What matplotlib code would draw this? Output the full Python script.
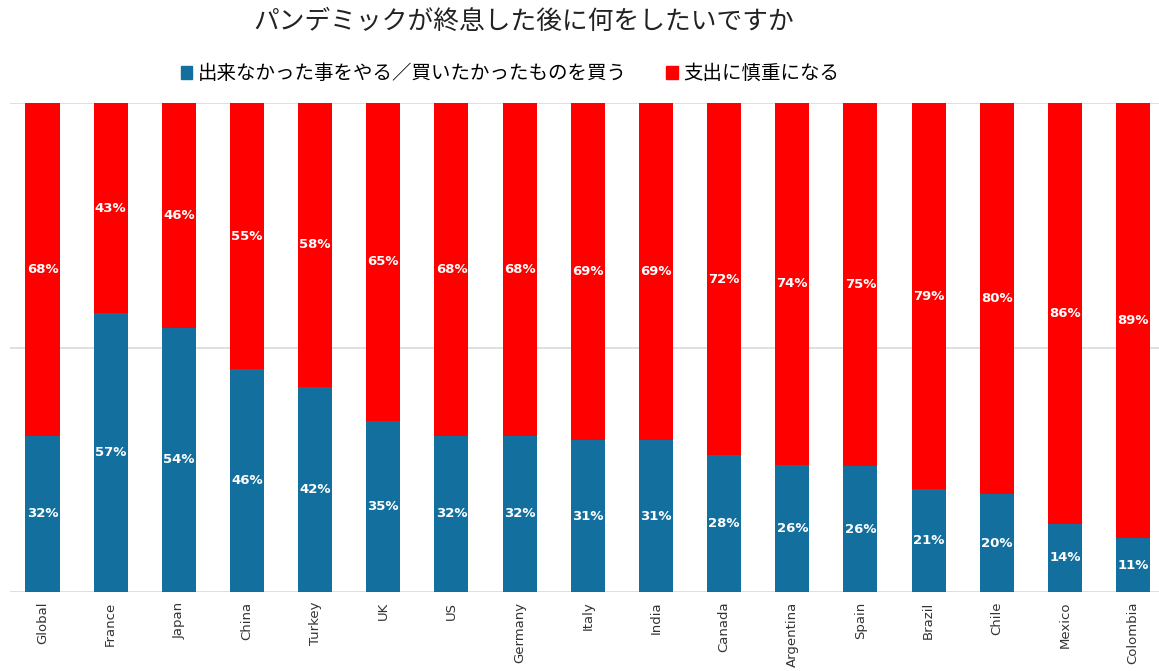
import numpy as np
import matplotlib
matplotlib.use("Agg")
import matplotlib.pyplot as plt
from matplotlib.patches import Patch

plt.rcParams['font.family'] = ['Noto Sans CJK JP', 'DejaVu Sans']

countries = ["Global", "France", "Japan", "China", "Turkey", "UK", "US", "Germany",
             "Italy", "India", "Canada", "Argentina", "Spain", "Brazil", "Chile",
             "Mexico", "Colombia"]
do_buy = [32, 57, 54, 46, 42, 35, 32, 32, 31, 31, 28, 26, 26, 21, 20, 14, 11]
careful = [68, 43, 46, 55, 58, 65, 68, 68, 69, 69, 72, 74, 75, 79, 80, 86, 89]

title = "パンデミックが終息した後に何をしたいですか"
legend_labels = ["出来なかった事をやる／買いたかったものを買う", "支出に慎重になる"]

blue_c = '#13709E'
red_c = '#FF0000'

# 100% stacked: scale each bar to its total
tot = np.array(do_buy) + np.array(careful)
b_h = np.array(do_buy) / tot * 100
r_h = np.array(careful) / tot * 100

fig = plt.figure(figsize=(11.59, 6.71), dpi=100)
ax = fig.add_axes([0.009, 0.1177, 0.991, 0.7288])

x = np.arange(len(countries))
ax.bar(x, b_h, width=0.5, color=blue_c, zorder=3)
ax.bar(x, r_h, width=0.5, bottom=b_h, color=red_c, zorder=3)

for i in range(len(countries)):
    ax.text(x[i], b_h[i] / 2, f"{do_buy[i]}%", ha='center', va='center',
            color='white', fontsize=9.5, fontweight='bold', family='DejaVu Sans', zorder=4)
    ax.text(x[i], b_h[i] + r_h[i] / 2, f"{careful[i]}%", ha='center', va='center',
            color='white', fontsize=9.5, fontweight='bold', family='DejaVu Sans', zorder=4)

ax.set_xlim(-0.47, 16.38)
ax.set_ylim(0, 100)
ax.set_yticks([0, 50, 100])
ax.set_yticklabels([])
ax.tick_params(axis='y', length=0)
ax.grid(axis='y', color='#d9d9d9', linewidth=1.2, zorder=0)
for s in ax.spines.values():
    s.set_visible(False)

ax.set_xticks(x)
ax.set_xticklabels(countries, rotation=90, fontsize=9.5, color='#333333', family='DejaVu Sans')
ax.tick_params(axis='x', length=0, pad=7)

fig.text(0.452, 0.967, title, ha='center', va='center', fontsize=18.5, color='#222222')

handles = [Patch(color=blue_c), Patch(color=red_c)]
fig.legend(handles, legend_labels, loc='center', bbox_to_anchor=(0.44, 0.89), ncol=2,
           frameon=False, fontsize=14, handlelength=0.6, handleheight=0.6,
           handletextpad=0.3, columnspacing=2.0)

fig.savefig("out.png", dpi=100)
